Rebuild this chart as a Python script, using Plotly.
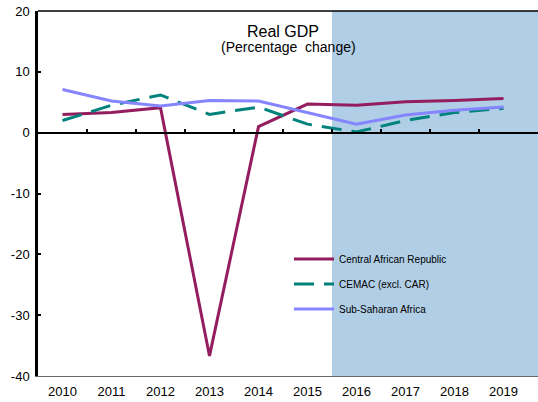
import plotly.graph_objects as go

years = [2010, 2011, 2012, 2013, 2014, 2015, 2016, 2017, 2018, 2019]
car = [3.0, 3.3, 4.1, -36.7, 1.0, 4.7, 4.5, 5.1, 5.3, 5.6]
cemac = [2.0, 4.5, 6.2, 3.0, 4.2, 1.4, 0.1, 2.0, 3.3, 4.0]
ssa = [7.1, 5.2, 4.4, 5.3, 5.2, 3.3, 1.4, 2.9, 3.7, 4.2]
y_ticks = [-40, -30, -20, -10, 0, 10, 20]
y_tick_text = ["-40", "-30", "-20", "-10", "0", "10", "20"]
projection_start = 2015.5

FONT = "Liberation Sans, Arial, sans-serif"
X_RANGE = [2009.5, 2019.704]

fig = go.Figure()
fig.add_trace(go.Scatter(x=years, y=car, mode="lines", name="Central African Republic",
                         legendgroup="a", line=dict(color="#931D5E", width=3)))
fig.add_trace(go.Scatter(x=years, y=cemac, mode="lines", name="CEMAC (excl. CAR)",
                         legendgroup="b",
                         line=dict(color="#00827C", width=3, dash="20px,10px")))
fig.add_trace(go.Scatter(x=years, y=ssa, mode="lines", name="Sub-Saharan Africa",
                         legendgroup="c", xaxis="x2",
                         line=dict(color="#8585FF", width=3)))

# projection shading
fig.add_shape(type="rect", xref="x", yref="paper", x0=projection_start, x1=X_RANGE[1],
              y0=0, y1=1, fillcolor="#B0CEE5", line=dict(width=0), layer="below")
# top border
fig.add_shape(type="line", xref="paper", yref="paper", x0=0, x1=1, y0=1, y1=1,
              line=dict(color="black", width=1.5))

fig.update_layout(
    width=538, height=402,
    margin=dict(l=38, r=0, t=11, b=26),
    paper_bgcolor="white", plot_bgcolor="white",
    font=dict(family=FONT, size=13, color="black"),
    showlegend=True,
    legend=dict(x=0.502, y=0.36, xanchor="left", yanchor="top",
                bgcolor="rgba(0,0,0,0)", font=dict(size=10, family=FONT),
                itemwidth=40, tracegroupgap=6, traceorder="grouped"),
    xaxis=dict(range=X_RANGE, tickvals=years, ticktext=[str(y) for y in years],
               showgrid=False, zeroline=False, showline=True, linecolor="#606870",
               linewidth=1, ticks="", tickfont=dict(size=13), automargin=False,
               ticklabelstandoff=3),
    xaxis2=dict(range=X_RANGE, overlaying="x", anchor="free", position=40/60,
                tickvals=[y + 0.5 for y in years[:-1]], ticks="inside", ticklen=3,
                tickcolor="black", tickwidth=1.5, showticklabels=False,
                showgrid=False, zeroline=False, showline=True, linecolor="black",
                linewidth=1.5, automargin=False),
    yaxis=dict(range=[-40, 20], tickvals=y_ticks, ticktext=y_tick_text,
               showgrid=False, zeroline=False,
               showline=True, linecolor="black", linewidth=2.5, ticks="inside",
               ticklen=3, tickwidth=1.5, tickcolor="black", tickfont=dict(size=13),
               automargin=False, ticklabelstandoff=3),
    annotations=[
        dict(text="Real GDP", xref="paper", yref="paper", x=0.49, y=0.945,
             xanchor="center", yanchor="middle", showarrow=False,
             font=dict(size=16, family=FONT)),
        dict(text="(Percentage  change)", xref="paper", yref="paper", x=0.5, y=0.902,
             xanchor="center", yanchor="middle", showarrow=False,
             font=dict(size=14, family=FONT)),
    ],
)

fig.write_html("out.html", config={"displayModeBar": False},
               post_script="document.body.style.margin='0';document.body.style.overflow='hidden';")
